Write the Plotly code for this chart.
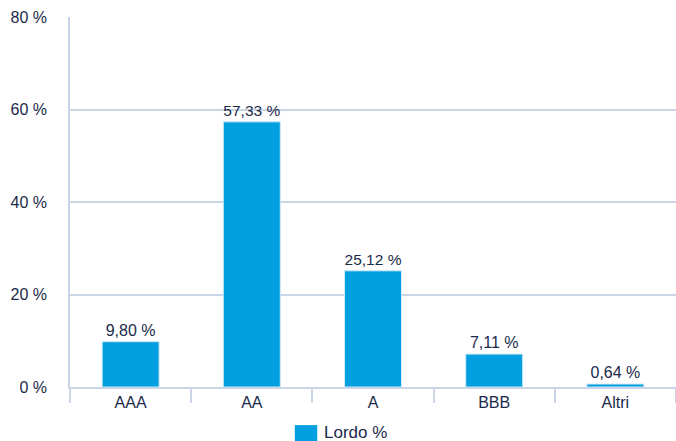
import plotly.graph_objects as go

categories = ["AAA", "AA", "A", "BBB", "Altri"]
values = [9.80, 57.33, 25.12, 7.11, 0.64]
series_name = "Lordo %"
y_ticks = [0, 20, 40, 60, 80]

labels = [f"{v:.2f}".replace(".", ",") + " %" for v in values]
y_ticktext = [f"{t} %" for t in y_ticks]

text_col = "#1b2a4a"
grid_col = "#c9d6e8"
bar_col = "#009fe0"

fig = go.Figure()
fig.add_trace(go.Bar(
    x=categories, y=values, name=series_name,
    text=labels, textposition="outside", cliponaxis=False,
    textfont=dict(size=16, color=text_col),
    marker=dict(color=bar_col, line=dict(color="#cfe8f7", width=1)),
    showlegend=False,
))

# legend drawn as a swatch + label below the plot
fig.add_shape(type="rect", xref="paper", yref="paper",
              x0=0.371, x1=0.408, y0=-0.103, y1=-0.146,
              fillcolor=bar_col, line=dict(width=0))
fig.add_annotation(xref="paper", yref="paper", x=0.416, y=-0.124,
                   xanchor="left", yanchor="middle", showarrow=False,
                   text=series_name, font=dict(size=17, color=text_col))

fig.update_layout(
    width=676, height=441,
    margin=dict(l=70, r=0, t=17, b=54, autoexpand=False),
    paper_bgcolor="white", plot_bgcolor="white",
    font=dict(family="Liberation Sans, Arial, sans-serif", size=16, color=text_col),
    bargap=0.53,
    showlegend=False,
    xaxis=dict(showgrid=False, ticks="outside", tickson="boundaries", ticklen=14,
               tickcolor=grid_col, tickwidth=1.5, showline=True, linecolor=grid_col,
               linewidth=1.5, automargin=False,
               tickfont=dict(size=16, color=text_col)),
    yaxis=dict(range=[0, 80], tickvals=y_ticks, ticktext=y_ticktext, showgrid=True,
               gridcolor=grid_col, gridwidth=1.5, showline=True, linecolor=grid_col,
               linewidth=1.5, zeroline=False, ticks="outside", ticklen=18,
               tickcolor="rgba(0,0,0,0)", automargin=False,
               tickfont=dict(size=16, color=text_col)),
)
fig.write_html(
    "out.html",
    config={"responsive": False, "displayModeBar": False},
    post_script="document.body.style.margin='0';document.body.style.overflow='hidden';",
)
